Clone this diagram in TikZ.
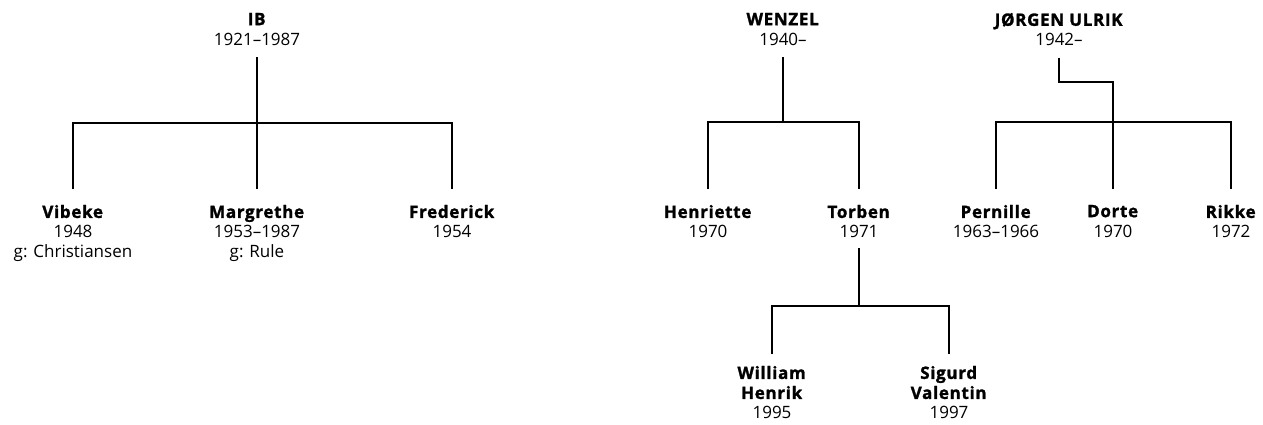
\documentclass[tikz,border=0pt]{standalone}
\usepackage{fontspec}
\setmainfont{Open Sans}[BoldFeatures={FakeBold=1.5,LetterSpace=4}]
\begin{document}
\begin{tikzpicture}[x=1pt,y=-1pt,
  person/.style={align=center,inner sep=0pt,font=\fontsize{17}{20}\selectfont},
  parent/.style={person,anchor=north,outer ysep=12pt},
  child/.style={person,anchor=north,outer ysep=16pt},
  gchild/.style={person,anchor=north,outer ysep=12pt},
  link/.style={line width=1.4pt}]
\useasboundingbox (0,0) rectangle (1263,425);
% IB
\node[parent] (ib) at (257,1) {\textbf{IB}\\1921–1987};
\node[child] (vib) at (73,189) {\textbf{Vibeke}\\1948\\g: Christiansen};
\node[child] (mar) at (257,189) {\textbf{Margrethe}\\1953–1987\\g: Rule};
\node[child] (fre) at (452,189) {\textbf{Frederick}\\1954};
\coordinate (ibbar) at (257,123);
\draw[link] (ib.south) -- (mar.north);
\draw[link] (vib.north) |- (ibbar) -| (fre.north);
% WENZEL
\node[parent] (wen) at (783,1) {\textbf{WENZEL}\\1940–};
\node[child] (hen) at (708,189) {\textbf{Henriette}\\1970};
\node[child] (tor) at (859,189) {\textbf{Torben}\\1971};
\coordinate (wenbar) at (783,122);
\draw[link] (wen.south) -- (wenbar);
\draw[link] (hen.north) |- (wenbar) -| (tor.north);
% Torben's children
\node[gchild] (wil) at (772,354) {\textbf{William}\\\textbf{Henrik}\\1995};
\node[gchild] (sig) at (949,354) {\textbf{Sigurd}\\\textbf{Valentin}\\1997};
\coordinate (torbar) at (859,306);
\draw[link] ([yshift=6pt]tor.south) -- (torbar);
\draw[link] (wil.north) |- (torbar) -| (sig.north);
% JØRGEN ULRIK
\node[parent] (jor) at (1059,1) {\textbf{JØRGEN ULRIK}\\1942–};
\node[child] (per) at (996,189) {\textbf{Pernille}\\1963–1966};
\node[child] (dor) at (1113,189) {\textbf{Dorte}\\1970};
\node[child] (rik) at (1231,189) {\textbf{Rikke}\\1972};
\coordinate (jog) at (1113,82);
\coordinate (jorbar) at (1113,122);
\draw[link] (jor.south) |- (jog) -- (dor.north);
\draw[link] (per.north) |- (jorbar) -| (rik.north);
\end{tikzpicture}
\end{document}
